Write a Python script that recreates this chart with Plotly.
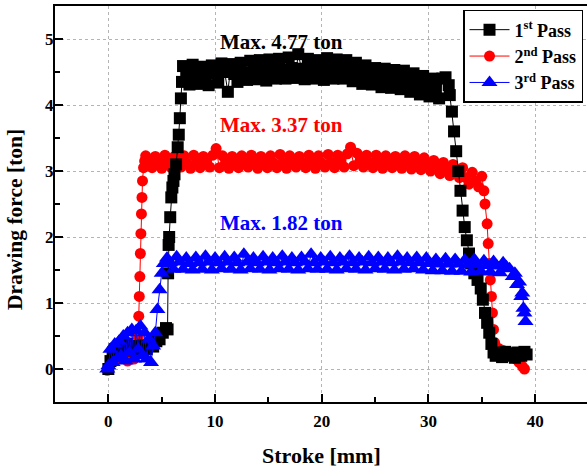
import plotly.graph_objects as go

# ---------------- data ----------------
# 1st pass (black squares)
pass1_x_rise = [0.0, 0.2, 0.4, 0.6, 0.9, 1.2, 1.5, 1.8, 2.1, 2.4,
                2.7, 3.0, 3.3, 3.6, 3.9, 4.2, 4.5, 4.8, 5.1, 5.4,
                5.55, 5.6, 5.65, 5.7, 5.8, 5.9, 6.0, 6.1, 6.2, 6.35,
                6.5, 6.6, 6.7, 6.8, 6.9]
pass1_y_rise = [0.00, 0.12, 0.22, 0.30, 0.26, 0.34, 0.30, 0.38, 0.28, 0.35,
                0.30, 0.32, 0.36, 0.30, 0.38, 0.34, 0.42, 0.45, 0.55, 0.62,
                0.60, 1.45, 1.88, 2.00, 2.30, 2.60, 2.75, 2.85, 2.95, 3.10,
                3.36, 3.55, 3.80, 4.10, 4.35]
pass1_x_plateau = [7.0, 7.3, 7.6, 7.9, 8.2, 8.5, 8.8, 9.1, 9.4, 9.7,
                   10.0, 10.3, 10.6, 10.9, 11.2, 11.5, 11.8, 12.1, 12.4, 12.7,
                   13.0, 13.3, 13.6, 13.9, 14.2, 14.5, 14.8, 15.1, 15.4, 15.7,
                   16.0, 16.3, 16.6, 16.9, 17.2, 17.5, 17.8, 18.1, 18.4, 18.7,
                   19.0, 19.3, 19.6, 19.9, 20.2, 20.5, 20.8, 21.1, 21.4, 21.7,
                   22.0, 22.3, 22.6, 22.9, 23.2, 23.5, 23.8, 24.1, 24.4, 24.7,
                   25.0, 25.3, 25.6, 25.9, 26.2, 26.5, 26.8, 27.1, 27.4, 27.7,
                   28.0, 28.3, 28.6, 28.9, 29.2, 29.5, 29.8, 30.1, 30.4, 30.7,
                   31.0, 31.3, 31.6, 31.9]
pass1_y_plateau = [4.59, 4.45, 4.31, 4.61, 4.44, 4.32, 4.58, 4.47, 4.30, 4.60,
                   4.48, 4.34, 4.63, 4.50, 4.20, 4.62, 4.47, 4.35, 4.64, 4.49,
                   4.38, 4.67, 4.52, 4.39, 4.68, 4.54, 4.37, 4.69, 4.53, 4.40,
                   4.70, 4.54, 4.40, 4.72, 4.56, 4.41, 4.77, 4.55, 4.39, 4.70,
                   4.53, 4.40, 4.68, 4.55, 4.38, 4.71, 4.54, 4.40, 4.69, 4.52,
                   4.40, 4.68, 4.52, 4.36, 4.64, 4.48, 4.32, 4.60, 4.45, 4.31,
                   4.56, 4.42, 4.27, 4.55, 4.40, 4.26, 4.53, 4.38, 4.24, 4.52,
                   4.36, 4.20, 4.48, 4.33, 4.16, 4.44, 4.28, 4.13, 4.40, 4.25,
                   4.10, 4.40, 4.42, 4.30]
pass1_x_drop = [32.0, 32.2, 32.4, 32.6, 32.8, 33.0, 33.2, 33.4, 33.6, 33.8,
                34.0, 34.3, 34.6, 34.9, 35.1, 35.3, 35.5, 35.7, 35.9, 36.1,
                36.3, 36.6, 36.9, 37.2, 37.5, 37.8, 38.1, 38.4, 38.7, 39.0,
                39.2]
pass1_y_drop = [4.15, 3.90, 3.60, 3.30, 3.00, 2.70, 2.40, 2.15, 1.95, 1.75,
                1.60, 1.45, 1.35, 1.22, 1.05, 0.85, 0.70, 0.55, 0.38, 0.25,
                0.20, 0.24, 0.18, 0.26, 0.20, 0.24, 0.17, 0.25, 0.20, 0.26,
                0.22]

# 2nd pass (red circles)
pass2_x_rise = [-0.1, 0.0, 0.3, 0.6, 0.9, 1.2, 1.5, 1.8, 2.1, 2.4,
                2.6, 2.8, 2.85, 2.9, 2.95, 3.0, 3.05, 3.1, 3.15, 3.2,
                3.3, 3.4]
pass2_y_rise = [-0.02, 0.00, 0.12, 0.20, 0.15, 0.22, 0.18, 0.12, 0.20, 0.15,
                0.25, 0.50, 0.80, 1.10, 1.40, 1.75, 2.05, 2.35, 2.60, 2.85,
                3.05, 3.15]
pass2_x_plateau = [3.5, 3.8, 4.1, 4.4, 4.7, 5.0, 5.3, 5.6, 5.9, 6.2,
                   6.5, 6.8, 7.1, 7.4, 7.7, 8.0, 8.3, 8.6, 8.9, 9.2,
                   9.5, 9.8, 10.1, 10.4, 10.7, 11.0, 11.3, 11.6, 11.9, 12.2,
                   12.5, 12.8, 13.1, 13.4, 13.7, 14.0, 14.3, 14.6, 14.9, 15.2,
                   15.5, 15.8, 16.1, 16.4, 16.7, 17.0, 17.3, 17.6, 17.9, 18.2,
                   18.5, 18.8, 19.1, 19.4, 19.7, 20.0, 20.3, 20.6, 20.9, 21.2,
                   21.5, 21.8, 22.1, 22.4, 22.7, 23.0, 23.3, 23.6, 23.9, 24.2,
                   24.5, 24.8, 25.1, 25.4, 25.7, 26.0, 26.3, 26.6, 26.9, 27.2,
                   27.5, 27.8, 28.1, 28.4, 28.7, 29.0, 29.3, 29.6, 29.9, 30.2,
                   30.5, 30.8, 31.1, 31.4, 31.7, 32.0, 32.3, 32.6, 32.9, 33.2,
                   33.5, 33.8, 34.1, 34.4, 34.7, 35.0]
pass2_y_plateau = [3.23, 3.13, 3.05, 3.22, 3.14, 3.04, 3.24, 3.12, 3.05, 3.22,
                   3.13, 3.06, 3.23, 3.12, 3.04, 3.24, 3.14, 3.05, 3.22, 3.13,
                   3.06, 3.24, 3.34, 3.05, 3.23, 3.13, 3.04, 3.22, 3.12, 3.05,
                   3.23, 3.13, 3.06, 3.24, 3.12, 3.04, 3.22, 3.14, 3.05, 3.23,
                   3.12, 3.05, 3.25, 3.13, 3.04, 3.23, 3.14, 3.06, 3.22, 3.12,
                   3.05, 3.24, 3.14, 3.04, 3.23, 3.12, 3.06, 3.25, 3.13, 3.05,
                   3.24, 3.14, 3.06, 3.26, 3.36, 3.08, 3.27, 3.15, 3.06, 3.24,
                   3.13, 3.05, 3.24, 3.12, 3.04, 3.23, 3.13, 3.05, 3.22, 3.12,
                   3.04, 3.23, 3.12, 3.03, 3.22, 3.11, 3.02, 3.20, 3.10, 3.00,
                   3.16, 3.06, 2.96, 3.13, 3.03, 2.93, 3.10, 2.99, 2.90, 3.05,
                   2.90, 2.80, 2.98, 2.85, 2.76, 2.92]
pass2_x_drop = [35.2, 35.3, 35.5, 35.6, 35.7, 35.8, 35.9, 36.0, 36.1, 36.2,
                36.3, 36.6, 37.0, 37.3, 37.6, 37.9, 38.2, 38.5, 38.8, 39.0]
pass2_y_drop = [2.70, 2.50, 2.20, 1.90, 1.60, 1.35, 1.10, 0.85, 0.60, 0.40,
                0.33, 0.31, 0.28, 0.26, 0.24, 0.20, 0.15, 0.10, 0.04, 0.00]

# 3rd pass (blue triangles)
pass3_x_rise = [-0.1, 0.0, 0.2, 0.4, 0.6, 0.8, 1.0, 1.2, 1.4, 1.6,
                1.8, 2.0, 2.2, 2.4, 2.6, 2.8, 3.0, 3.2, 3.4, 3.6,
                3.8, 4.0, 4.2, 4.4, 4.6, 4.8, 5.0, 5.2]
pass3_y_rise = [0.00, 0.05, 0.30, 0.10, 0.38, 0.15, 0.42, 0.20, 0.50, 0.12,
                0.55, 0.25, 0.60, 0.15, 0.58, 0.30, 0.65, 0.20, 0.55, 0.15,
                0.45, 0.10, 0.35, 0.55, 0.90, 1.20, 1.45, 1.60]
pass3_x_plateau = [5.5, 5.8, 6.1, 6.4, 6.7, 7.0, 7.3, 7.6, 7.9, 8.2,
                   8.5, 8.8, 9.1, 9.4, 9.7, 10.0, 10.3, 10.6, 10.9, 11.2,
                   11.5, 11.8, 12.1, 12.4, 12.7, 13.0, 13.3, 13.6, 13.9, 14.2,
                   14.5, 14.8, 15.1, 15.4, 15.7, 16.0, 16.3, 16.6, 16.9, 17.2,
                   17.5, 17.8, 18.1, 18.4, 18.7, 19.0, 19.3, 19.6, 19.9, 20.2,
                   20.5, 20.8, 21.1, 21.4, 21.7, 22.0, 22.3, 22.6, 22.9, 23.2,
                   23.5, 23.8, 24.1, 24.4, 24.7, 25.0, 25.3, 25.6, 25.9, 26.2,
                   26.5, 26.8, 27.1, 27.4, 27.7, 28.0, 28.3, 28.6, 28.9, 29.2,
                   29.5, 29.8, 30.1, 30.4, 30.7, 31.0, 31.3, 31.6, 31.9, 32.2,
                   32.5, 32.8, 33.1, 33.4, 33.7, 34.0, 34.3, 34.6, 34.9, 35.2,
                   35.5, 35.8, 36.1, 36.4, 36.7, 37.0, 37.3]
pass3_y_plateau = [1.68, 1.61, 1.51, 1.70, 1.62, 1.51, 1.68, 1.60, 1.50, 1.69,
                   1.61, 1.51, 1.71, 1.62, 1.50, 1.68, 1.61, 1.52, 1.70, 1.62,
                   1.51, 1.69, 1.61, 1.50, 1.74, 1.62, 1.52, 1.68, 1.61, 1.51,
                   1.70, 1.62, 1.50, 1.68, 1.61, 1.52, 1.71, 1.62, 1.51, 1.68,
                   1.61, 1.50, 1.69, 1.62, 1.52, 1.74, 1.61, 1.51, 1.68, 1.62,
                   1.51, 1.70, 1.61, 1.50, 1.68, 1.62, 1.52, 1.71, 1.61, 1.51,
                   1.68, 1.62, 1.50, 1.70, 1.61, 1.52, 1.69, 1.62, 1.51, 1.68,
                   1.61, 1.50, 1.71, 1.62, 1.51, 1.68, 1.61, 1.52, 1.69, 1.61,
                   1.50, 1.68, 1.60, 1.49, 1.66, 1.59, 1.49, 1.67, 1.59, 1.48,
                   1.66, 1.59, 1.48, 1.65, 1.58, 1.47, 1.66, 1.58, 1.48, 1.64,
                   1.57, 1.47, 1.63, 1.56, 1.46, 1.61, 1.55]
pass3_x_drop = [37.6, 37.9, 38.1, 38.3, 38.5, 38.7, 38.8, 38.9, 39.0, 39.1]
pass3_y_drop = [1.52, 1.40, 1.45, 1.28, 1.32, 1.10, 1.15, 0.92, 0.85, 0.72]

series_names = ["1<sup>st</sup> Pass", "2<sup>nd</sup> Pass", "3<sup>rd</sup> Pass"]
max_labels = ["Max. 4.77 ton", "Max. 3.37 ton", "Max. 1.82 ton"]
max_label_x = [16.2, 16.25, 16.25]
max_label_y = [4.96, 3.70, 2.21]

x_ticks = [0, 10, 20, 30, 40]
y_ticks = [0, 1, 2, 3, 4, 5]

# ---------------- figure ----------------
FONT = "Liberation Serif"
colors = ["#000000", "#ff0000", "#0000ff"]
symbols = ["square", "circle", "triangle-up"]
sizes = [12, 11, 14]

series = [
    (pass1_x_rise + pass1_x_plateau + pass1_x_drop,
     pass1_y_rise + pass1_y_plateau + pass1_y_drop),
    (pass2_x_rise + pass2_x_plateau + pass2_x_drop,
     pass2_y_rise + pass2_y_plateau + pass2_y_drop),
    (pass3_x_rise + pass3_x_plateau + pass3_x_drop,
     pass3_y_rise + pass3_y_plateau + pass3_y_drop),
]

fig = go.Figure()
draw_order = [1, 0, 2]  # red under black, blue on top
for i in draw_order:
    xs, ys = series[i]
    fig.add_trace(go.Scatter(
        x=xs, y=ys, mode="lines+markers", name=series_names[i],
        legendrank=i + 1,
        line=dict(color=colors[i], width=1),
        marker=dict(symbol=symbols[i], size=sizes[i], color=colors[i],
                    line=dict(width=0)),
    ))

for txt, lx, ly, c in zip(max_labels, max_label_x, max_label_y, colors):
    fig.add_annotation(x=lx, y=ly, xref="x", yref="y", text=txt, showarrow=False,
                       xanchor="center", yanchor="middle",
                       font=dict(family=FONT, size=21, color=c, weight="bold"))

# axis titles
fig.add_annotation(x=0.5, y=-0.134, xref="paper", yref="paper", text="Stroke [mm]",
                   showarrow=False, xanchor="center", yanchor="middle",
                   font=dict(family=FONT, size=22, color="black", weight="bold"))
fig.add_annotation(x=-0.0742, y=0.461, xref="paper", yref="paper",
                   text="Drawing force [ton]", textangle=-90,
                   showarrow=False, xanchor="center", yanchor="middle",
                   font=dict(family=FONT, size=21.5, color="black", weight="bold"))

axis_common = dict(
    showline=True, linecolor="black", linewidth=2,
    ticks="inside", tickcolor="black", tickwidth=2, ticklen=8,
    showgrid=True, gridcolor="#b4b4b4", griddash="dot", gridwidth=1,
    zeroline=False, automargin=False,
    tickfont=dict(family=FONT, size=17, color="black", weight="bold"),
)

fig.update_xaxes(range=[-5, 44.86], tickvals=x_ticks, mirror=True,
                 ticklabelstandoff=3,
                 minor=dict(ticks="inside", ticklen=5, tickwidth=2, tickcolor="black",
                            dtick=5, tick0=0, showgrid=False),
                 **axis_common)
fig.update_yaxes(range=[-0.5, 5.5], tickvals=y_ticks, mirror=False,
                 ticklabelstandoff=-4,
                 minor=dict(ticks="inside", ticklen=5, tickwidth=2, tickcolor="black",
                            dtick=0.5, tick0=0, showgrid=False),
                 **axis_common)

fig.update_layout(
    width=587, height=470,
    margin=dict(l=55, r=0, t=6, b=68),
    paper_bgcolor="white", plot_bgcolor="white",
    showlegend=True,
    legend=dict(x=0.9925, xanchor="right", y=0.99, yanchor="top",
                bgcolor="white", bordercolor="black", borderwidth=1.5,
                font=dict(family=FONT, size=18, color="black", weight="bold"),
                tracegroupgap=0, itemwidth=40),
)

fig.write_html("out.html", config={"displayModeBar": False},
               post_script="document.body.style.margin='0px';")
